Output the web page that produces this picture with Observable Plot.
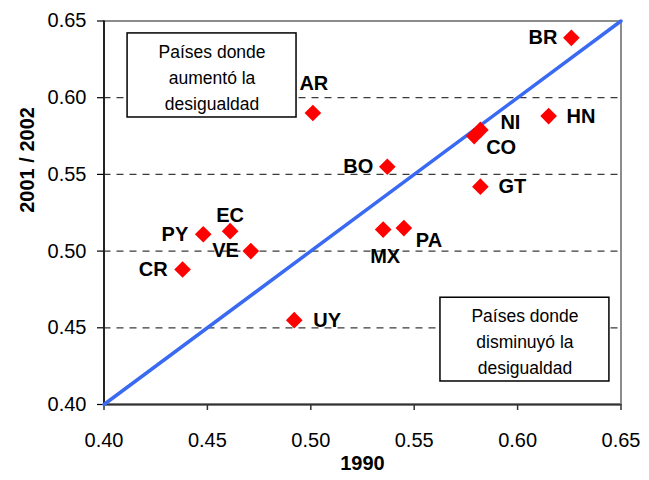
<!DOCTYPE html>
<html>
<head>
<meta charset="utf-8">
<script src="https://cdn.jsdelivr.net/npm/d3@7"></script>
<script src="https://cdn.jsdelivr.net/npm/@observablehq/plot@0.6"></script>
<style>
  html, body { margin: 0; padding: 0; background: white; }
</style>
</head>
<body>
<div id="chart"></div>
<script>
// ---- data ----
const countries = ["BR", "AR", "HN", "NI", "CO", "BO", "GT", "EC", "PY", "VE", "CR", "UY", "MX", "PA"];
const gini1990  = [0.626, 0.501, 0.615, 0.582, 0.579, 0.537, 0.582, 0.461, 0.448, 0.471, 0.438, 0.492, 0.535, 0.545];
const gini2002  = [0.639, 0.590, 0.588, 0.579, 0.575, 0.555, 0.542, 0.513, 0.511, 0.500, 0.488, 0.455, 0.514, 0.515];
const xTicks = [0.40, 0.45, 0.50, 0.55, 0.60, 0.65];
const yTicks = [0.40, 0.45, 0.50, 0.55, 0.60, 0.65];
const gridValues = [0.45, 0.50, 0.55, 0.60];
const diagonal = [0.40, 0.65];
const noteTexts = ["Países donde\naumentó la\ndesigualdad", "Países donde\ndisminuyó la\ndesigualdad"];
const noteX1 = [0.4114, 0.5627];
const noteX2 = [0.4931, 0.6444];
const noteY1 = [0.5871, 0.4150];
const noteY2 = [0.6419, 0.4696];
const xTitle = "1990";
const yTitle = "2001 / 2002";

// ---- label placement (layout) ----
const labelPlacement = {
  BR: {dx: -14, dy: 0, anchor: "end"},
  AR: {dx: 1, dy: -29, anchor: "middle"},
  HN: {dx: 18, dy: 0, anchor: "start"},
  NI: {dx: 20, dy: -7, anchor: "start"},
  CO: {dx: 12, dy: 12, anchor: "start"},
  BO: {dx: -14, dy: 0, anchor: "end"},
  GT: {dx: 18, dy: 0, anchor: "start"},
  EC: {dx: 0, dy: -16, anchor: "middle"},
  PY: {dx: -15, dy: 0, anchor: "end"},
  VE: {dx: -12, dy: -1, anchor: "end"},
  CR: {dx: -15, dy: 0, anchor: "end"},
  UY: {dx: 19, dy: 0, anchor: "start"},
  MX: {dx: 2, dy: 27, anchor: "middle"},
  PA: {dx: 12, dy: 13, anchor: "start"}
};

const points = countries.map((c, i) => ({code: c, x: gini1990[i], y: gini2002[i]}));
const notes = noteTexts.map((t, i) => ({text: t, x1: noteX1[i], x2: noteX2[i], y1: noteY1[i], y2: noteY2[i]}));
const diagData = diagonal.map(v => ({x: v, y: v}));

const labelMarks = points.map(p => {
  const L = labelPlacement[p.code];
  return Plot.text([p], {x: "x", y: "y", text: "code", dx: L.dx, dy: L.dy, textAnchor: L.anchor,
    fontWeight: "bold", fontSize: 20, fill: "black"});
});

const chart = Plot.plot({
  width: 649,
  height: 480,
  marginLeft: 103.5,
  marginRight: 28.5,
  marginTop: 20.5,
  marginBottom: 76,
  style: {fontFamily: "'Liberation Sans', Arial, sans-serif", fontSize: "20px", background: "white", color: "black"},
  x: {domain: [xTicks[0], xTicks[xTicks.length - 1]]},
  y: {domain: [yTicks[0], yTicks[yTicks.length - 1]]},
  marks: [
    Plot.ruleY(gridValues, {stroke: "#3a3a3a", strokeWidth: 1.3, strokeDasharray: "7,6"}),
    Plot.frame({stroke: "#8c8c8c", strokeWidth: 2}),
    Plot.ruleX([xTicks[0]], {stroke: "black", strokeWidth: 1.5}),
    Plot.ruleY([yTicks[0]], {stroke: "#333", strokeWidth: 2}),
    Plot.axisX(xTicks, {tickSize: 6, tickPadding: 22, tickFormat: d3.format(".2f"), label: null, fontSize: 20, stroke: "#333", strokeWidth: 1.5}),
    Plot.axisY(yTicks, {tickSize: 6.5, tickPadding: 11, tickFormat: d3.format(".2f"), label: null, fontSize: 20, stroke: "black", strokeWidth: 1.2}),
    Plot.rect(notes, {x1: "x1", x2: "x2", y1: "y1", y2: "y2", fill: "white", stroke: "black", strokeWidth: 1.5}),
    Plot.text(notes, {x: d => (d.x1 + d.x2) / 2, y: d => (d.y1 + d.y2) / 2, text: "text", fontSize: 17.5, lineHeight: 1.5, fill: "black"}),
    Plot.line(diagData, {x: "x", y: "y", stroke: "#3a6af2", strokeWidth: 3.5}),
    Plot.dot(points, {x: "x", y: "y", symbol: "diamond2", r: 7.5, fill: "#ff0000", stroke: "none"}),
    ...labelMarks,
    Plot.text([xTitle], {frameAnchor: "bottom", dy: 65, fontWeight: "bold", fontSize: 20, fill: "black"}),
    Plot.text([yTitle], {frameAnchor: "left", dx: -76, rotate: -90, fontWeight: "bold", fontSize: 20, fill: "black"})
  ]
});
document.getElementById("chart").appendChild(chart);
</script>
</body>
</html>
